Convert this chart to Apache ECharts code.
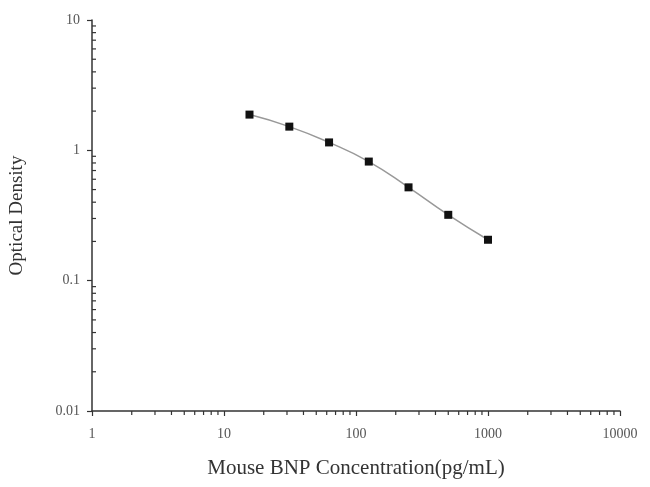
<!DOCTYPE html>
<html><head><meta charset="utf-8">
<script src="https://cdn.jsdelivr.net/npm/echarts@6/dist/echarts.min.js"></script>
<style>html,body{margin:0;padding:0;background:#fff}#c{width:650px;height:487px}</style>
</head><body><div id="c"></div>
<script>
const concentrations = [15.6, 31.25, 62.5, 125, 250, 500, 1000];
const opticalDensity = [1.88, 1.52, 1.15, 0.82, 0.52, 0.32, 0.206];
const xTickLabels = ['1', '10', '100', '1000', '10000'];
const yTickLabels = ['0.01', '0.1', '1', '10'];
const xTitle = 'Mouse BNP Concentration(pg/mL)';
const yTitle = 'Optical Density';

const chart = echarts.init(document.getElementById('c'), null, {renderer: 'canvas'});
const font = 'Liberation Serif';
const axisCommon = {
  type: 'log', logBase: 10,
  axisLine: {show: true, lineStyle: {color: '#333', width: 1.5}},
  axisTick: {show: true, length: 5, lineStyle: {color: '#333', width: 1.2}},
  splitLine: {show: false},
  nameTextStyle: {fontFamily: font, fontSize: 19, color: '#333'},
  axisLabel: {fontFamily: font, fontSize: 14, color: '#555'}
};
chart.setOption({
  animation: false,
  grid: {left: 92, right: 30, top: 20, bottom: 76, outerBoundsMode: 'none', containLabel: false},
  xAxis: Object.assign({}, axisCommon, {
    min: 1, max: 10000, name: xTitle, nameLocation: 'middle', nameGap: 47,
    nameTextStyle: {fontFamily: font, fontSize: 21, color: '#333'},
    axisLabel: Object.assign({}, axisCommon.axisLabel, {margin: 16,
      formatter: v => { const s = String(Math.round(v)); return xTickLabels.includes(s) ? s : ''; }})
  }),
  yAxis: Object.assign({}, axisCommon, {
    min: 0.01, max: 10, name: yTitle, nameLocation: 'middle', nameGap: 65,
    axisLabel: Object.assign({}, axisCommon.axisLabel, {margin: 12,
      formatter: v => { const s = String(+v.toPrecision(3)); return yTickLabels.includes(s) ? s : ''; }})
  }),
  series: [{
    type: 'line',
    data: concentrations.map((c, i) => [c, opticalDensity[i]]),
    symbol: 'rect', symbolSize: 8, smooth: true,
    lineStyle: {color: '#999', width: 1.5},
    itemStyle: {color: '#111'}
  }]
});

// minor ticks at 2..9 per decade
const g = [];
const minorLen = 4;
for (let d = 0; d < 4; d++) {
  for (let k = 2; k <= 9; k++) {
    const xv = k * Math.pow(10, d);
    const p = chart.convertToPixel({gridIndex: 0}, [xv, 0.01]);
    g.push({type: 'line', shape: {x1: p[0], y1: p[1], x2: p[0], y2: p[1] + minorLen}, style: {stroke: '#333', lineWidth: 1.2}});
  }
}
for (let d = -2; d < 1; d++) {
  for (let k = 2; k <= 9; k++) {
    const yv = k * Math.pow(10, d);
    const p = chart.convertToPixel({gridIndex: 0}, [1, yv]);
    g.push({type: 'line', shape: {x1: p[0], y1: p[1], x2: p[0] + minorLen, y2: p[1]}, style: {stroke: '#333', lineWidth: 1.2}});
  }
}
chart.setOption({graphic: g});
</script></body></html>
